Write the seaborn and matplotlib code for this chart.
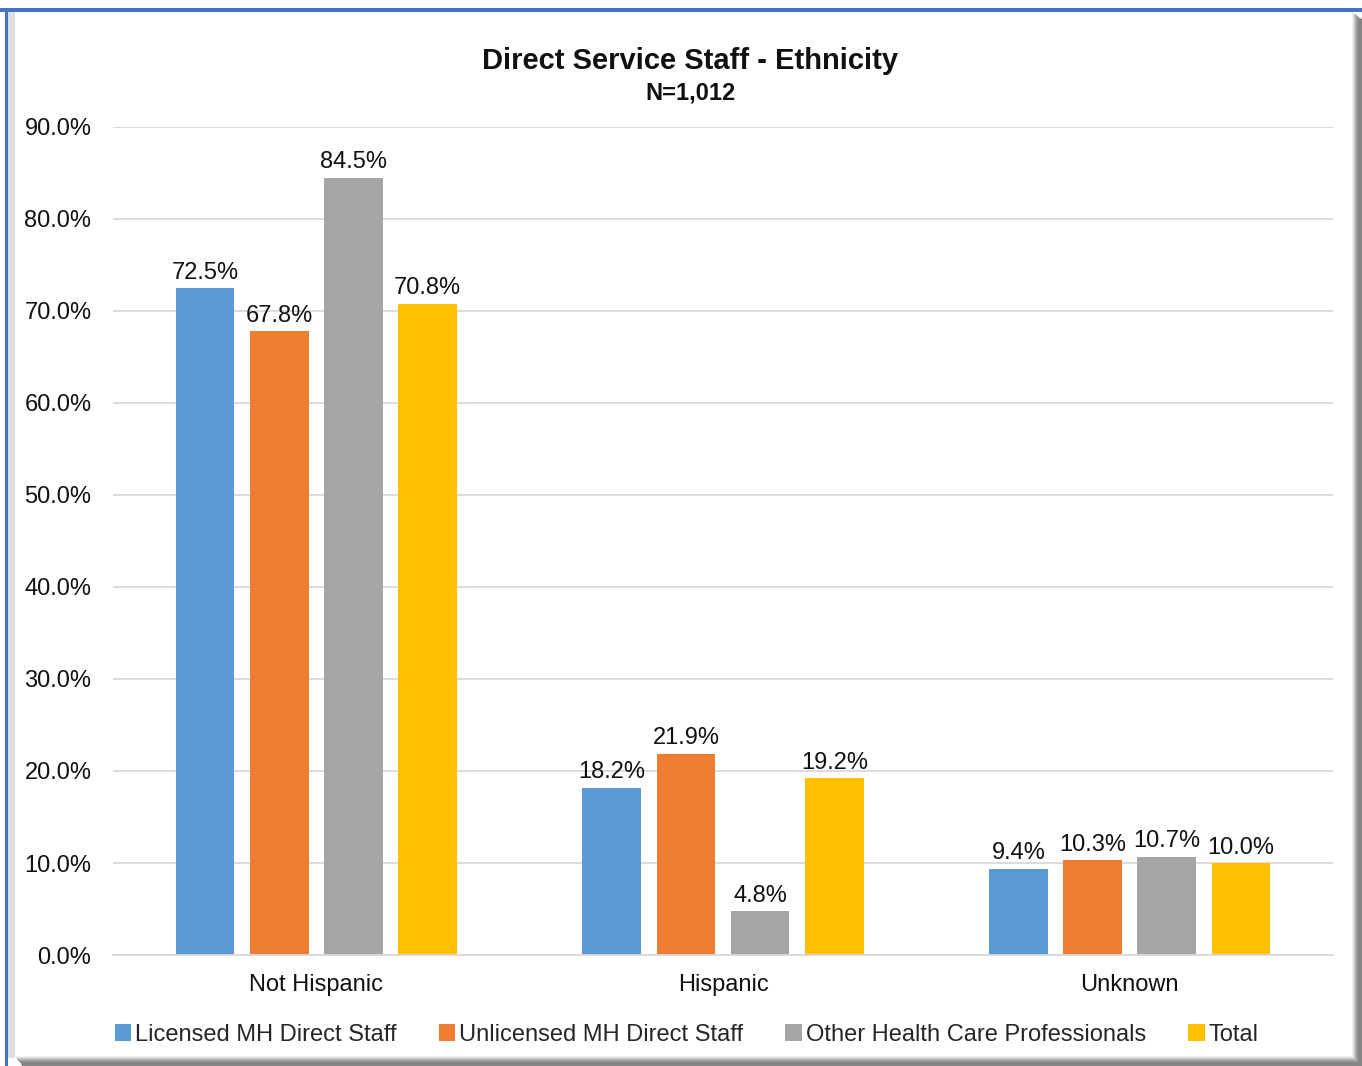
import matplotlib
matplotlib.use("Agg")
import matplotlib.pyplot as plt
from matplotlib.patches import Rectangle
import seaborn as sns
import pandas as pd

categories = ["Not Hispanic", "Hispanic", "Unknown"]
groups = ["Licensed MH Direct Staff", "Unlicensed MH Direct Staff",
          "Other Health Care Professionals", "Total"]
licensed = [72.5, 18.2, 9.4]
unlicensed = [67.8, 21.9, 10.3]
other = [84.5, 4.8, 10.7]
total = [70.8, 19.2, 10.0]
colors = ["#5B9BD5", "#ED7D31", "#A5A5A5", "#FFC000"]
yticks = [0, 10, 20, 30, 40, 50, 60, 70, 80, 90]

rows = []
for g, vals in zip(groups, [licensed, unlicensed, other, total]):
    for c, v in zip(categories, vals):
        rows.append({"Ethnicity": c, "Group": g, "Pct": v})
df = pd.DataFrame(rows)

sns.set_theme(style="white")
plt.rcParams["font.family"] = ["Liberation Sans", "DejaVu Sans"]

W, H = 1362, 1066
fig = plt.figure(figsize=(W / 100, H / 100), dpi=100)
ax = fig.add_axes([113 / W, 1 - 955 / H, 1220 / W, (955 - 127) / H])

sns.barplot(data=df, x="Ethnicity", y="Pct", hue="Group", order=categories,
            hue_order=groups, palette=colors, width=0.73, gap=0.21,
            saturation=1, ax=ax, legend=True, linewidth=0)

ax.set_xlim(-0.5, 2.5)
ax.set_ylim(0, 90)
ax.set_yticks(yticks)
ax.set_yticklabels([f"{t:.1f}%" for t in yticks], fontsize=17, color="#111111")
ax.tick_params(axis="x", labelsize=17, colors="#111111", pad=14, length=0)
ax.tick_params(axis="y", pad=15.5, length=0)
ax.set_xlabel("")
ax.set_ylabel("")
ax.yaxis.grid(True, color="#D9D9D9", linewidth=1.3)
ax.set_axisbelow(True)
for s in ["top", "right", "left"]:
    ax.spines[s].set_visible(False)
ax.spines["bottom"].set_color("#D9D9D9")
ax.spines["bottom"].set_linewidth(1.3)

for cont in ax.containers:
    ax.bar_label(cont, labels=[f"{v:.1f}%" for v in cont.datavalues],
                 fontsize=17, color="#111111", padding=3)

handles, labels = ax.get_legend_handles_labels()
ax.legend(handles, labels, loc="center", bbox_to_anchor=(0.504, 1 - 1035 / H),
          bbox_transform=fig.transFigure, ncol=4, frameon=False, fontsize=17,
          handlelength=0.7, handleheight=0.7, handletextpad=0.15,
          columnspacing=1.8)

fig.text(690 / W, 1 - 61 / H, "Direct Service Staff - Ethnicity",
         ha="center", va="center", fontsize=21, fontweight="bold", color="#111111")
fig.text(690 / W, 1 - 93 / H, "N=1,012", ha="center", va="center",
         fontsize=17, fontweight="bold", color="#111111")


def box(x0, y0, x1, y1, color, z=0):
    """Filled rectangle given in pixel coordinates measured from the top-left."""
    fig.patches.append(Rectangle((x0 / W, 1 - y1 / H), (x1 - x0) / W, (y1 - y0) / H,
                                 transform=fig.transFigure, facecolor=color,
                                 edgecolor="none", zorder=z))


# bevelled frame: light inner edge on the left, shaded edges right and bottom
box(8, 12, 15, 1058, "#DEDEDE")
shades = ["#F2F2F2", "#E0E0E0", "#CBCBCB", "#B5B5B5", "#A2A2A2", "#939393",
          "#8A8A8A", "#858585", "#858585", "#858585"]
for i, c in enumerate(shades):
    box(1352 + i, 12 + i * 0.8, 1353 + i, H, c)
    box(15 + i * 0.8, 1056 + i, 1352 + i, 1057 + i, c)
# blue outline along the top and left
box(0, 8, W, 11.5, "#4472C4", 2)
box(4.5, 8, 8, H, "#4472C4", 2)

fig.savefig("out.png", dpi=100)
